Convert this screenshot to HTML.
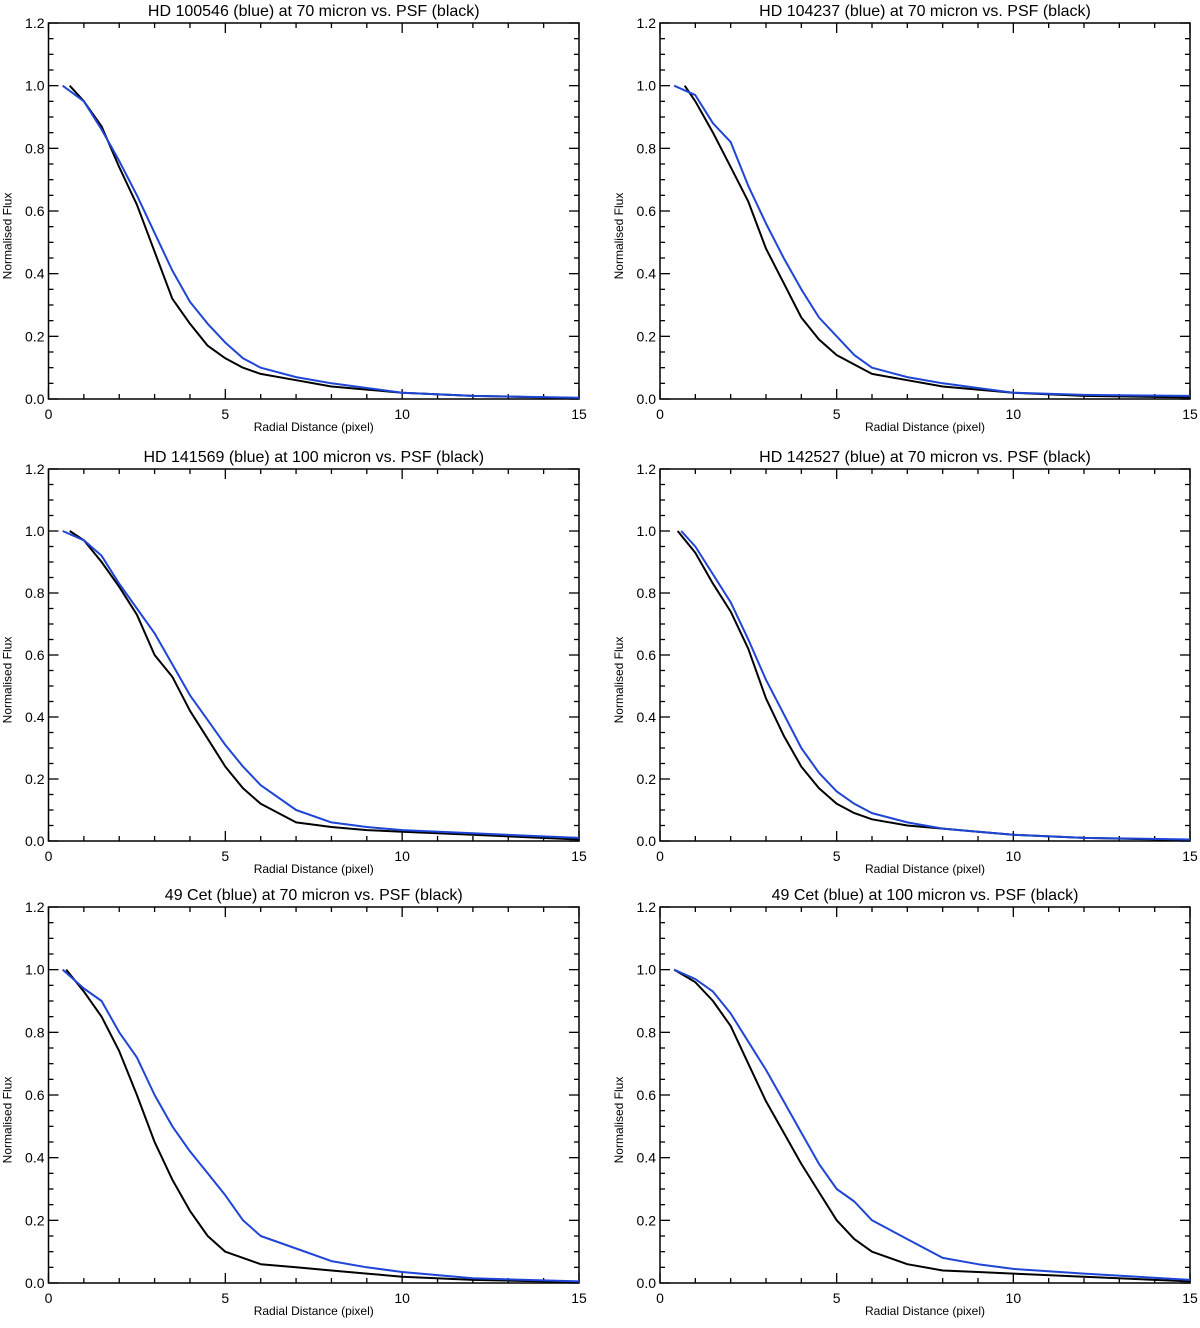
<!DOCTYPE html>
<html><head><meta charset="utf-8"><style>
body{margin:0;background:#fff;width:1200px;height:1323px;overflow:hidden}
svg text{font-family:"Liberation Sans",sans-serif;fill:#000}
</style></head><body>
<svg id="fig" width="1200" height="1323" viewBox="0 0 1200 1323" xmlns="http://www.w3.org/2000/svg"></svg>
<script>
const titles=["HD 100546 (blue) at 70 micron vs. PSF (black)","HD 104237 (blue) at 70 micron vs. PSF (black)","HD 141569 (blue) at 100 micron vs. PSF (black)","HD 142527 (blue) at 70 micron vs. PSF (black)","49 Cet (blue) at 70 micron vs. PSF (black)","49 Cet (blue) at 100 micron vs. PSF (black)"];
const xGrid=[1,1.5,2,2.5,3,3.5,4,4.5,5,5.5,6,7,8,9,10,12,15];
const psfStart=[0.6,0.7,0.6,0.5,0.5,0.4];
const srcStart=[0.4,0.4,0.4,0.6,0.4,0.4];
const psf1=[0.95,0.87,0.74,0.62,0.47,0.32,0.24,0.17,0.13,0.10,0.08,0.06,0.04,0.03,0.02,0.01,0.003];
const src1=[0.95,0.86,0.76,0.65,0.53,0.41,0.31,0.24,0.18,0.13,0.10,0.07,0.05,0.035,0.02,0.01,0.004];
const psf2=[0.95,0.85,0.74,0.63,0.48,0.37,0.26,0.19,0.14,0.11,0.08,0.06,0.04,0.03,0.02,0.01,0.005];
const src2=[0.97,0.88,0.82,0.68,0.56,0.45,0.35,0.26,0.20,0.14,0.10,0.07,0.05,0.035,0.02,0.013,0.01];
const psf3=[0.97,0.90,0.82,0.73,0.60,0.53,0.42,0.33,0.24,0.17,0.12,0.06,0.045,0.035,0.03,0.02,0.005];
const src3=[0.97,0.92,0.83,0.75,0.67,0.57,0.47,0.39,0.31,0.24,0.18,0.10,0.06,0.045,0.035,0.025,0.01];
const psf4=[0.93,0.83,0.74,0.62,0.46,0.34,0.24,0.17,0.12,0.09,0.07,0.05,0.04,0.03,0.02,0.01,0.003];
const src4=[0.95,0.86,0.77,0.65,0.52,0.41,0.30,0.22,0.16,0.12,0.09,0.06,0.04,0.03,0.02,0.01,0.005];
const psf5=[0.93,0.85,0.74,0.60,0.45,0.33,0.23,0.15,0.10,0.08,0.06,0.05,0.04,0.03,0.02,0.01,0.003];
const src5=[0.94,0.90,0.80,0.72,0.60,0.50,0.42,0.35,0.28,0.20,0.15,0.11,0.07,0.05,0.035,0.015,0.005];
const psf6=[0.96,0.90,0.82,0.70,0.58,0.48,0.38,0.29,0.20,0.14,0.10,0.06,0.04,0.035,0.03,0.02,0.005];
const src6=[0.97,0.93,0.86,0.77,0.68,0.58,0.48,0.38,0.30,0.26,0.20,0.14,0.08,0.06,0.045,0.03,0.01];
const psfAll=[psf1,psf2,psf3,psf4,psf5,psf6];
const srcAll=[src1,src2,src3,src4,src5,src6];
const xTicks=[0,5,10,15];
const yTicks=[0,0.2,0.4,0.6,0.8,1.0,1.2];

const NS="http://www.w3.org/2000/svg";
const svg=document.getElementById('fig');
function mk(tag,attrs,parent){const e=document.createElementNS(NS,tag);for(const k in attrs)e.setAttribute(k,attrs[k]);(parent||svg).appendChild(e);return e;}
const cols=[{x0:48.5,w:530.5},{x0:660,w:530}];
const rows=[{top:23,bot:399},{top:469,bot:841},{top:907,bot:1283}];
for(let p=0;p<6;p++){
  const c=cols[p%2],r=rows[Math.floor(p/2)];
  const g=mk('g',{});
  
  
  const sx=v=>c.x0+v/15*c.w, sy=v=>r.bot-v/1.2*(r.bot-r.top);
  const fr=mk('rect',{x:c.x0,y:r.top,width:c.w,height:r.bot-r.top,fill:'none',stroke:'#000','stroke-width':1.5},g);
  
  
  for(let i=0;i<=15;i++){const L=i%5===0?10:5,x=sx(i);
    mk('line',{x1:x,y1:r.bot,x2:x,y2:r.bot-L,stroke:'#000','stroke-width':1.3},g);
    mk('line',{x1:x,y1:r.top,x2:x,y2:r.top+L,stroke:'#000','stroke-width':1.3},g);}
  for(let i=0;i<=24;i++){const L=i%4===0?10:5,y=sy(i*0.05);
    mk('line',{x1:c.x0,y1:y,x2:c.x0+L,y2:y,stroke:'#000','stroke-width':1.3},g);
    mk('line',{x1:c.x0+c.w,y1:y,x2:c.x0+c.w-L,y2:y,stroke:'#000','stroke-width':1.3},g);}
  xTicks.forEach(v=>{const t=mk('text',{x:sx(v),y:r.bot+20,'font-size':14,'text-anchor':'middle'},g);t.textContent=v;
    
    });
  yTicks.forEach(v=>{const t=mk('text',{x:c.x0-4,y:sy(v)+5,'font-size':14,'text-anchor':'end'},g);t.textContent=v.toFixed(1);
    
    });
  const tt=mk('text',{x:c.x0+c.w/2,y:r.top-7,'font-size':16,'text-anchor':'middle'},g);tt.textContent=titles[p];
  
  
  const xl=mk('text',{x:c.x0+c.w/2,y:r.bot+32,'font-size':12,'text-anchor':'middle'},g);xl.textContent='Radial Distance (pixel)';
  
  
  const yx=c.x0-37,yy=(r.top+r.bot)/2+25;
  const yl=mk('text',{x:yx,y:yy,'font-size':12,'text-anchor':'middle',transform:`rotate(-90 ${yx} ${yy})`},g);yl.textContent='Normalised Flux';
  
  
  const line=(start,vals,col,name)=>{let d='M'+sx(start)+','+sy(1.0);
    xGrid.forEach((x,i)=>{d+=' L'+sx(x).toFixed(1)+','+sy(vals[i]).toFixed(1);});
    const pth=mk('path',{d:d,fill:'none',stroke:col,'stroke-width':2,'stroke-linejoin':'round'},g);
    
    };
  line(psfStart[p],psfAll[p],'#000','psf-line');
  line(srcStart[p],srcAll[p],'#1f45d6','source-line');
}
</script>
</body></html>
